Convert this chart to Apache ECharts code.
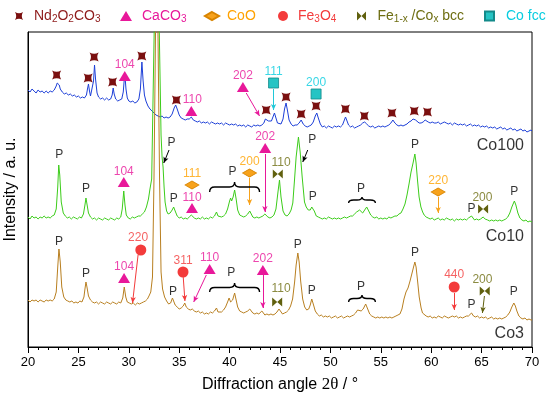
<!DOCTYPE html>
<html><head><meta charset="utf-8">
<script src="https://cdn.jsdelivr.net/npm/echarts@6/dist/echarts.min.js"></script>
<style>html,body{margin:0;padding:0;background:#fff}#c{width:550px;height:398px}</style>
</head><body><div id="c"></div>
<script>
// ---------- DATA (2θ in degrees, intensity in arbitrary units) ----------
const co100 = [[20,257],[20.2,255],[20.4,258],[20.6,256],[20.8,254],[21,257],[21.2,255],[21.4,256],[21.6,254],[21.8,256],[22,254],[22.2,256],[22.4,255],[22.6,257],[22.8,261],[22.9,264],[23,265],[23.1,262],[23.2,258],[23.4,255],[23.6,253],[23.8,254],[24,252],[24.2,253],[24.4,251],[24.6,252],[24.8,250],[25,251],[25.2,249],[25.4,250],[25.6,249],[25.8,252],[25.9,258],[26,263],[26.1,256],[26.2,251],[26.35,253],[26.5,266],[26.6,282],[26.7,268],[26.85,254],[27,250],[27.2,248],[27.4,249],[27.6,247],[27.8,249],[28,247],[28.2,248],[28.35,252],[28.45,259],[28.55,253],[28.7,248],[28.9,246],[29.1,247],[29.3,248],[29.45,255],[29.6,274],[29.72,258],[29.85,249],[30,246],[30.2,245],[30.4,246],[30.6,244],[30.8,245],[31,248],[31.15,258],[31.3,285],[31.42,266],[31.55,252],[31.7,246],[31.9,241],[32.1,238],[32.3,236],[32.5,234],[32.7,232],[32.9,231],[33.1,230],[33.3,231],[33.5,229],[33.7,230],[33.9,229],[34.1,230],[34.3,233],[34.5,239],[34.65,242],[34.8,238],[35,232],[35.2,229],[35.4,228],[35.6,227],[35.8,228],[36,228],[36.2,230],[36.4,227],[36.6,226],[36.8,225],[37,226],[37.2,224],[37.4,225],[37.6,224],[37.8,225],[38,223],[38.2,225],[38.4,224],[38.6,223],[38.8,224],[39,223],[39.2,224],[39.4,222],[39.6,224],[39.8,223],[40,222],[40.2,223],[40.4,222],[40.6,223],[40.8,221],[41,222],[41.2,221],[41.4,222],[41.6,220],[41.8,222],[42,221],[42.2,220],[42.4,222],[42.6,221],[42.8,222],[43,221],[43.2,222],[43.4,224],[43.55,228],[43.7,230],[43.85,226],[44,224],[44.15,226],[44.3,230],[44.45,234],[44.6,229],[44.75,224],[44.9,222],[45.1,223],[45.3,228],[45.45,238],[45.6,244],[45.75,236],[45.9,227],[46.1,223],[46.3,221],[46.5,222],[46.7,222],[46.9,224],[47.1,227],[47.3,223],[47.5,221],[47.7,220],[47.9,221],[48.1,222],[48.3,225],[48.5,231],[48.65,234],[48.8,229],[49,223],[49.2,220],[49.4,221],[49.6,219],[49.8,221],[50,220],[50.2,219],[50.4,221],[50.6,220],[50.8,221],[51,220],[51.2,222],[51.35,226],[51.5,230],[51.65,226],[51.8,222],[52,220],[52.2,221],[52.4,219],[52.6,220],[52.8,221],[53,222],[53.2,224],[53.4,225],[53.6,223],[53.8,221],[54,220],[54.2,221],[54.4,219],[54.6,220],[54.8,221],[55,220],[55.2,221],[55.4,220],[55.6,221],[55.8,222],[56,224],[56.2,227],[56.4,224],[56.6,222],[56.8,221],[57,222],[57.2,221],[57.4,222],[57.6,223],[57.8,225],[58,226],[58.2,228],[58.3,229],[58.45,227],[58.6,225],[58.8,224],[59,224],[59.2,225],[59.4,227],[59.5,227],[59.7,225],[59.9,224],[60.1,225],[60.3,224],[60.5,224],[60.7,225],[60.9,223],[61.1,224],[61.3,225],[61.5,224],[61.7,223],[61.9,224],[62.1,222],[62.3,224],[62.5,223],[62.7,222],[62.9,223],[63.1,222],[63.3,223],[63.5,221],[63.7,222],[63.9,223],[64.1,221],[64.3,222],[64.5,221],[64.7,222],[64.9,220],[65.1,221],[65.3,220],[65.5,221],[65.7,219],[65.9,220],[66.1,219],[66.3,220],[66.5,218],[66.7,219],[66.9,220],[67.1,218],[67.3,219],[67.5,217],[67.7,218],[67.9,219],[68.1,217],[68.3,218],[68.5,216],[68.7,217],[68.9,218],[69.1,216],[69.3,217],[69.5,215],[69.7,216],[69.9,217],[70,216]];

const co10 = [[20,130],[20.2,128],[20.4,131],[20.6,129],[20.8,130],[21,128],[21.2,130],[21.4,129],[21.6,131],[21.8,129],[22,130],[22.2,129],[22.4,131],[22.6,132],[22.8,138],[22.95,160],[23.05,182],[23.15,172],[23.3,145],[23.5,134],[23.7,131],[23.9,129],[24.1,130],[24.3,128],[24.5,130],[24.7,129],[24.9,128],[25.1,130],[25.3,129],[25.5,133],[25.65,142],[25.75,149],[25.85,143],[26,134],[26.2,130],[26.4,128],[26.6,129],[26.8,127],[27,129],[27.2,128],[27.4,127],[27.6,129],[27.8,128],[28,127],[28.2,129],[28.4,128],[28.6,127],[28.8,129],[29,128],[29.2,130],[29.35,138],[29.5,156],[29.62,142],[29.75,132],[29.95,129],[30.15,128],[30.35,130],[30.55,129],[30.75,130],[30.95,131],[31.15,131],[31.35,133],[31.55,135],[31.75,140],[31.95,148],[32.1,158],[32.27,168],[32.78,470],[33.05,300],[33.2,212],[33.3,190],[33.4,180],[33.5,160],[33.6,145],[33.75,136],[33.9,133],[34.1,134],[34.3,137],[34.45,140],[34.6,136],[34.8,131],[35,129],[35.2,130],[35.4,128],[35.6,129],[35.8,128],[36,130],[36.2,132],[36.35,131],[36.5,129],[36.7,128],[36.9,129],[37.1,128],[37.3,130],[37.5,128],[37.7,129],[37.9,128],[38.1,130],[38.3,129],[38.5,131],[38.7,135],[38.85,131],[39,129],[39.2,130],[39.4,131],[39.6,133],[39.8,138],[40,146],[40.1,149],[40.2,146],[40.35,150],[40.5,157],[40.65,148],[40.8,137],[41,132],[41.2,131],[41.4,130],[41.6,131],[41.8,133],[42,136],[42.15,133],[42.3,130],[42.5,129],[42.7,130],[42.9,129],[43.1,130],[43.3,131],[43.5,133],[43.65,131],[43.8,130],[44,129],[44.2,130],[44.4,132],[44.6,138],[44.8,155],[44.95,167],[45.1,150],[45.3,136],[45.5,132],[45.7,131],[45.9,133],[46.1,137],[46.27,144],[46.44,167],[46.6,190],[46.83,210],[47,195],[47.2,170],[47.43,145],[47.6,140],[47.8,137],[48,137],[48.15,140],[48.25,141],[48.4,136],[48.6,131],[48.8,130],[49,129],[49.2,128],[49.4,129],[49.6,128],[49.8,130],[50,129],[50.2,128],[50.4,129],[50.6,128],[50.8,129],[51,128],[51.2,129],[51.4,130],[51.6,129],[51.8,130],[52,131],[52.2,131],[52.4,133],[52.6,135],[52.9,137],[53.2,134],[53.4,137],[53.6,140],[53.8,136],[54,132],[54.2,130],[54.4,129],[54.6,130],[54.8,128],[55,129],[55.2,128],[55.4,129],[55.6,128],[55.8,130],[56,129],[56.2,130],[56.4,131],[56.6,131],[56.8,133],[57,134],[57.2,138],[57.4,143],[57.6,152],[57.8,163],[58,175],[58.2,184],[58.38,193],[58.5,184],[58.64,167],[58.8,150],[58.98,140],[59.15,135],[59.3,132],[59.5,130],[59.7,129],[59.9,128],[60.1,129],[60.3,127],[60.5,128],[60.7,129],[60.9,127],[61.1,128],[61.3,127],[61.5,129],[61.7,128],[61.9,127],[62.1,128],[62.3,126],[62.5,128],[62.7,127],[62.9,128],[63.1,127],[63.3,128],[63.5,127],[63.7,129],[63.85,130],[64,131],[64.15,129],[64.3,127],[64.5,128],[64.7,127],[64.9,128],[65.15,130],[65.35,128],[65.6,127],[65.8,126],[66,127],[66.2,126],[66.4,127],[66.6,126],[66.8,127],[67,126],[67.2,127],[67.4,128],[67.6,130],[67.8,134],[68,140],[68.25,146],[68.4,142],[68.6,134],[68.8,129],[69,127],[69.2,126],[69.4,127],[69.6,125],[69.8,126],[70,125]];

const co3 = [[20,47],[20.2,45],[20.4,47],[20.6,46],[20.8,47],[21,45],[21.2,47],[21.4,46],[21.6,45],[21.8,47],[22,46],[22.2,47],[22.4,46],[22.6,48],[22.8,55],[22.95,80],[23.07,98],[23.2,85],[23.35,60],[23.55,50],[23.75,47],[23.95,46],[24.15,45],[24.35,46],[24.55,44],[24.75,45],[24.95,44],[25.15,46],[25.35,45],[25.55,50],[25.65,58],[25.75,65],[25.85,60],[26,51],[26.2,47],[26.4,45],[26.6,44],[26.8,45],[27,43],[27.2,45],[27.4,44],[27.6,43],[27.8,45],[28,44],[28.2,43],[28.4,45],[28.6,44],[28.8,43],[29,45],[29.2,44],[29.4,49],[29.55,60],[29.7,50],[29.85,45],[30.05,44],[30.25,43],[30.45,44],[30.65,42],[30.85,44],[31.05,43],[31.25,44],[31.45,45],[31.65,46],[31.85,48],[32,51],[32.18,55],[32.35,70],[32.5,170],[32.77,430],[33.05,170],[33.2,75],[33.35,58],[33.55,50],[33.75,46],[33.95,43],[34.15,44],[34.33,49],[34.45,47],[34.6,42],[34.8,40],[35,38],[35.2,39],[35.4,41],[35.55,44],[35.7,40],[35.9,38],[36.1,37],[36.3,38],[36.5,36],[36.7,35],[36.9,36],[37.1,34],[37.3,35],[37.5,33],[37.7,34],[37.9,33],[38.1,35],[38.3,34],[38.5,36],[38.7,39],[38.85,35],[39,34],[39.2,35],[39.4,37],[39.6,40],[39.8,45],[39.95,49],[40.1,45],[40.3,47],[40.5,54],[40.65,47],[40.8,40],[41,36],[41.2,35],[41.4,34],[41.6,35],[41.8,36],[42,38],[42.15,36],[42.3,34],[42.5,33],[42.7,34],[42.9,33],[43.05,34],[43.2,36],[43.35,34],[43.5,32],[43.7,33],[43.9,32],[44.1,33],[44.3,32],[44.5,33],[44.7,35],[44.9,38],[45.05,36],[45.25,33],[45.45,34],[45.65,35],[45.85,37],[46.05,41],[46.25,48],[46.45,65],[46.6,82],[46.77,94],[46.9,85],[47.05,66],[47.25,48],[47.45,40],[47.65,37],[47.85,38],[48,42],[48.15,48],[48.3,43],[48.5,36],[48.7,33],[48.9,31],[49.1,32],[49.3,30],[49.5,31],[49.7,30],[49.9,31],[50.1,29],[50.3,30],[50.5,31],[50.7,29],[50.9,30],[51.1,31],[51.3,29],[51.5,30],[51.7,31],[51.9,30],[52.1,31],[52.3,32],[52.5,34],[52.7,37],[52.85,38],[53.05,36],[53.25,38],[53.5,43],[53.7,38],[53.9,33],[54.1,31],[54.3,30],[54.5,29],[54.7,30],[54.9,29],[55.1,30],[55.3,29],[55.5,30],[55.7,29],[55.9,30],[56.1,29],[56.3,30],[56.5,31],[56.7,32],[56.9,33],[57.1,38],[57.3,48],[57.5,55],[57.7,59],[57.9,66],[58.1,74],[58.25,80],[58.38,85],[58.5,80],[58.65,66],[58.81,50],[59,39],[59.14,34],[59.3,32],[59.5,31],[59.7,30],[59.9,31],[60.1,29],[60.3,30],[60.5,29],[60.7,31],[60.9,30],[61.1,29],[61.3,31],[61.5,30],[61.7,29],[61.9,30],[62.1,31],[62.3,30],[62.5,31],[62.7,29],[62.9,30],[63.1,29],[63.3,30],[63.5,31],[63.7,31],[63.85,32],[64,34],[64.2,31],[64.4,30],[64.6,31],[64.8,29],[65,30],[65.2,29],[65.4,30],[65.6,28],[65.8,29],[66,30],[66.2,28],[66.4,29],[66.6,28],[66.8,29],[67,28],[67.2,29],[67.4,30],[67.6,32],[67.8,35],[68,40],[68.2,44],[68.35,41],[68.5,36],[68.7,31],[68.9,29],[69.1,28],[69.3,29],[69.5,27],[69.7,28],[69.9,27],[70,27]];

// phase markers [2θ, intensity]
const ndMarks = [[22.84,272],[25.97,269],[26.56,290],[28.39,265],[31.29,291],[34.72,247],[43.63,237],[45.6,250],[47.1,233],[48.58,241],[51.49,238],[53.37,231],[56.11,234],[58.32,236],[59.63,235]];
const caMarks = [[29.6,271],[36.2,236],[41.32,260],[29.5,165],[36.27,139],[43.53,199],[29.53,69],[38.02,78],[43.3,77]];
const cooMarks = [[36.27,162],[41.98,174],[60.69,155]];
const fe3o4Marks = [[31.19,97],[35.38,75],[62.28,60]];
const bccMarks = [[44.78,173],[65.15,138],[44.72,45],[65.31,56]];
const fccMarks = [[44.36,264],[48.58,253]];

// reflection labels [text, 2θ, intensity]
const caLabels = [['104',29.6,282],['110',36.3,247],['202',41.32,271],['104',29.5,175],['110',36.27,149],['202',43.53,210],['104',29.53,80],['110',38.02,89],['202',43.3,88]];
const cooLabels = [['111',36.27,173],['200',41.98,185],['220',60.69,166]];
const fe3o4Labels = [['220',30.92,109],['311',35.38,86],['440',62.28,72]];
const bccLabels = [['110',45.1,184],['200',65.08,149],['110',45.1,58],['200',65.08,67]];
const fccLabels = [['111',44.36,275],['200',48.58,264]];
const pLabels = [['P',23.1,192],['P',25.75,158],['P',34.23,204],['P',34.45,148],['P',40.3,175],['P',48.19,207],['P',48.25,150],['P',53.04,158],['P',58.4,202],['P',64.0,138],['P',68.25,155],
  ['P',23.07,105],['P',25.75,73],['P',34.39,55],['P',40.17,74],['P',46.77,102],['P',48.15,56],['P',53.04,60],['P',58.4,94],['P',64.0,42],['P',68.2,55]];
const sampleLabels = [['Co100',69.2,201],['Co10',69.2,110],['Co3',69.2,13]];

// arrows [x1,y1,x2,y2]
const caArrows = [[41.65,254,42.97,231],[43.53,193,43.5,135],[37.69,72,36.44,45],[43.3,72,43.3,39]];
const cooArrows = [[41.98,169,41.98,142],[60.69,150,60.69,134]];
const fe3o4Arrows = [[30.92,92,30.37,44],[35.4,70,35.57,46],[62.28,54,62.28,37]];
const bccArrows = [[65.28,51,65.08,34]];
const fccArrows = [[44.36,258,44.36,237]];
const pArrows = [[33.99,197,33.47,184],[47.75,197,47.26,185]];
// braces [x1, x2, yEnds, yTip]
const braces = [[38.02,42.97,155,165],[51.81,54.46,144,150],[38.02,42.97,55,64],[51.81,54.46,45,52]];

// ---------- CHART ----------
const FONT = '"Liberation Sans", Arial, sans-serif';
const C = {blue:'#1d3fd8', green:'#3ccc1a', brown:'#b87f20', nd:'#7a0f0f', ndText:'#8e1a1a', ca:'#e8189a',
  coo:'#f7a21b', cooText:'#ffa200', fe:'#f33b3b', bcc:'#60600e', bccText:'#6e6e12', fcc:'#25c4c4', fccText:'#08cde0'};
const ND_PATH = 'path://M0,0 Q5,3 10,0 Q7,5 10,10 Q5,7 0,10 Q3,5 0,0 Z';
const BOW_PATH = 'path://M0,0 L5,5 L0,10 Z M10,0 L5,5 L10,10 Z';

function arrowLine(arr, color) {
  return {silent:true, symbol:['none','arrow'], symbolSize:[4,6], animation:false,
    lineStyle:{color:color, width:1, type:'solid'}, label:{show:false}, emphasis:{disabled:true},
    data: arr.map(a => [{coord:[a[0],a[1]]},{coord:[a[2],a[3]]}])};
}
function labelSeries(arr, color, size, extra) {
  return Object.assign({type:'scatter', data: arr.map(a => ({name:a[0], value:[a[1],a[2]]})), symbolSize:0,
    silent:true, z:6, animation:false,
    label:Object.assign({show:true, position:'inside', formatter:'{b}', color:color, fontSize:size, fontFamily:FONT}, extra || {})}, {});
}
function lineSeries(name, data, color) {
  return {type:'line', name:name, data:data, showSymbol:false, symbol:'none', clip:true, z:2, animation:false,
    silent:true, lineStyle:{color:color, width:1}};
}
function markSeries(name, data, symbol, size, color, border) {
  return {type:'scatter', name:name, data:data, symbol:symbol, symbolSize:size, z:5, silent:true, animation:false,
    itemStyle:{color:color, borderColor:border || color, borderWidth:border ? 0.8 : 0, opacity:1}};
}

const series = [
  lineSeries('Co100', co100, C.blue),
  lineSeries('Co10', co10, C.green),
  lineSeries('Co3', co3, C.brown),
  markSeries('Nd2O2CO3', ndMarks, ND_PATH, 9, C.nd),
  Object.assign(markSeries('CaCO3', caMarks, 'triangle', [12,10], C.ca), {markLine: arrowLine(caArrows, C.ca)}),
  Object.assign(markSeries('CoO', cooMarks, 'diamond', [14,8], C.coo, '#d88400'), {markLine: arrowLine(cooArrows, C.coo)}),
  Object.assign(markSeries('Fe3O4', fe3o4Marks, 'circle', 11, C.fe), {markLine: arrowLine(fe3o4Arrows, C.fe)}),
  Object.assign(markSeries('Fe bcc', bccMarks, BOW_PATH, [10,9], C.bcc), {markLine: arrowLine(bccArrows, C.bcc)}),
  Object.assign(markSeries('Co fcc', fccMarks, 'rect', 10, C.fcc, '#138a8a'), {markLine: arrowLine(fccArrows, '#20c8d8')}),
  labelSeries(caLabels, C.ca, 12),
  labelSeries(cooLabels, C.cooText, 12),
  labelSeries(fe3o4Labels, C.fe, 12),
  labelSeries(bccLabels, C.bccText, 12),
  labelSeries(fccLabels, C.fccText, 12),
  Object.assign(labelSeries(pLabels, '#000', 12), {markLine: arrowLine(pArrows, '#000')}),
  labelSeries(sampleLabels, '#000', 16, {align:'right'}),
  {type:'custom', data:braces, silent:true, z:6, animation:false,
   renderItem: function (params, api) {
     const x1 = api.value(0), x2 = api.value(1), ye = api.value(2), yt = api.value(3);
     const L = api.coord([x1, ye]), R = api.coord([x2, ye]), T = api.coord([(x1 + x2) / 2, yt]);
     const ly = (L[1] + T[1]) / 2, h = 5;
     const d = 'M' + L[0] + ' ' + L[1] + ' Q' + L[0] + ' ' + ly + ' ' + (L[0] + h) + ' ' + ly +
       ' L' + (T[0] - h) + ' ' + ly + ' Q' + T[0] + ' ' + ly + ' ' + T[0] + ' ' + T[1] +
       ' Q' + T[0] + ' ' + ly + ' ' + (T[0] + h) + ' ' + ly + ' L' + (R[0] - h) + ' ' + ly +
       ' Q' + R[0] + ' ' + ly + ' ' + R[0] + ' ' + R[1];
     return {type:'path', shape:{pathData:d}, style:{stroke:'#000', fill:null, lineWidth:1.4}};
   }}
];

const legendDefs = [
  {name:'Nd2O2CO3', text:'Nd{s|2}O{s|2}CO{s|3}', color:C.ndText, left:15, w:8, h:8, gap:6},
  {name:'CaCO3', text:'CaCO{s|3}', color:C.ca, left:120, w:12, h:10, gap:5},
  {name:'CoO', text:'CoO', color:C.cooText, left:204, w:14, h:8, gap:3},
  {name:'Fe3O4', text:'Fe{s|3}O{s|4}', color:C.fe, left:278, w:10, h:10, gap:5},
  {name:'Fe bcc', text:'Fe{s|1-x} /Co{s|x} bcc', color:C.bccText, left:357, w:10, h:9, gap:6},
  {name:'Co fcc', text:'Co fcc', color:C.fccText, left:484, w:9, h:9, gap:7}
];
const legends = legendDefs.map(d => ({
  data:[d.name], left:d.left, top:9, padding:0, itemWidth:d.w, itemHeight:d.h, selectedMode:false,
  formatter: () => d.text,
  textStyle:{color:d.color, fontSize:14, fontFamily:FONT, padding:[0,0,0,d.gap],
    rich:{s:{fontSize:10, color:d.color, fontFamily:FONT, verticalAlign:'bottom', padding:[7,0,0,0]}}}
}));

const chart = echarts.init(document.getElementById('c'), null, {renderer:'canvas'});
chart.setOption({
  animation:false,
  backgroundColor:'#fff',
  legend: legends,
  grid:{left:28, right:18, top:32, bottom:51, show:true, borderColor:'#000', borderWidth:1, backgroundColor:'transparent', containLabel:false, outerBoundsMode:'none'},
  xAxis:{type:'value', min:20, max:70, interval:5,
    axisLine:{show:true, lineStyle:{color:'#000', width:1}},
    axisTick:{show:true, length:6, lineStyle:{color:'#000'}},
    minorTick:{show:true, splitNumber:5, length:3, lineStyle:{color:'#000'}},
    axisLabel:{fontSize:13, color:'#000', margin:9, fontFamily:FONT},
    splitLine:{show:false}, minorSplitLine:{show:false},
    name:'Diffraction angle {t|2θ} / °', nameLocation:'middle', nameGap:29,
    nameTextStyle:{fontSize:16, color:'#000', fontFamily:FONT, rich:{t:{fontSize:17, color:'#000', fontFamily:'"Liberation Serif", serif'}}}},
  yAxis:{type:'value', min:0, max:315,
    axisLine:{show:true, lineStyle:{color:'#000', width:1}},
    axisTick:{show:false}, axisLabel:{show:false}, splitLine:{show:false},
    name:'Intensity / a. u.', nameLocation:'middle', nameGap:9,
    nameTextStyle:{fontSize:16, color:'#000', fontFamily:FONT}},
  series: series
});
</script>
</body></html>
